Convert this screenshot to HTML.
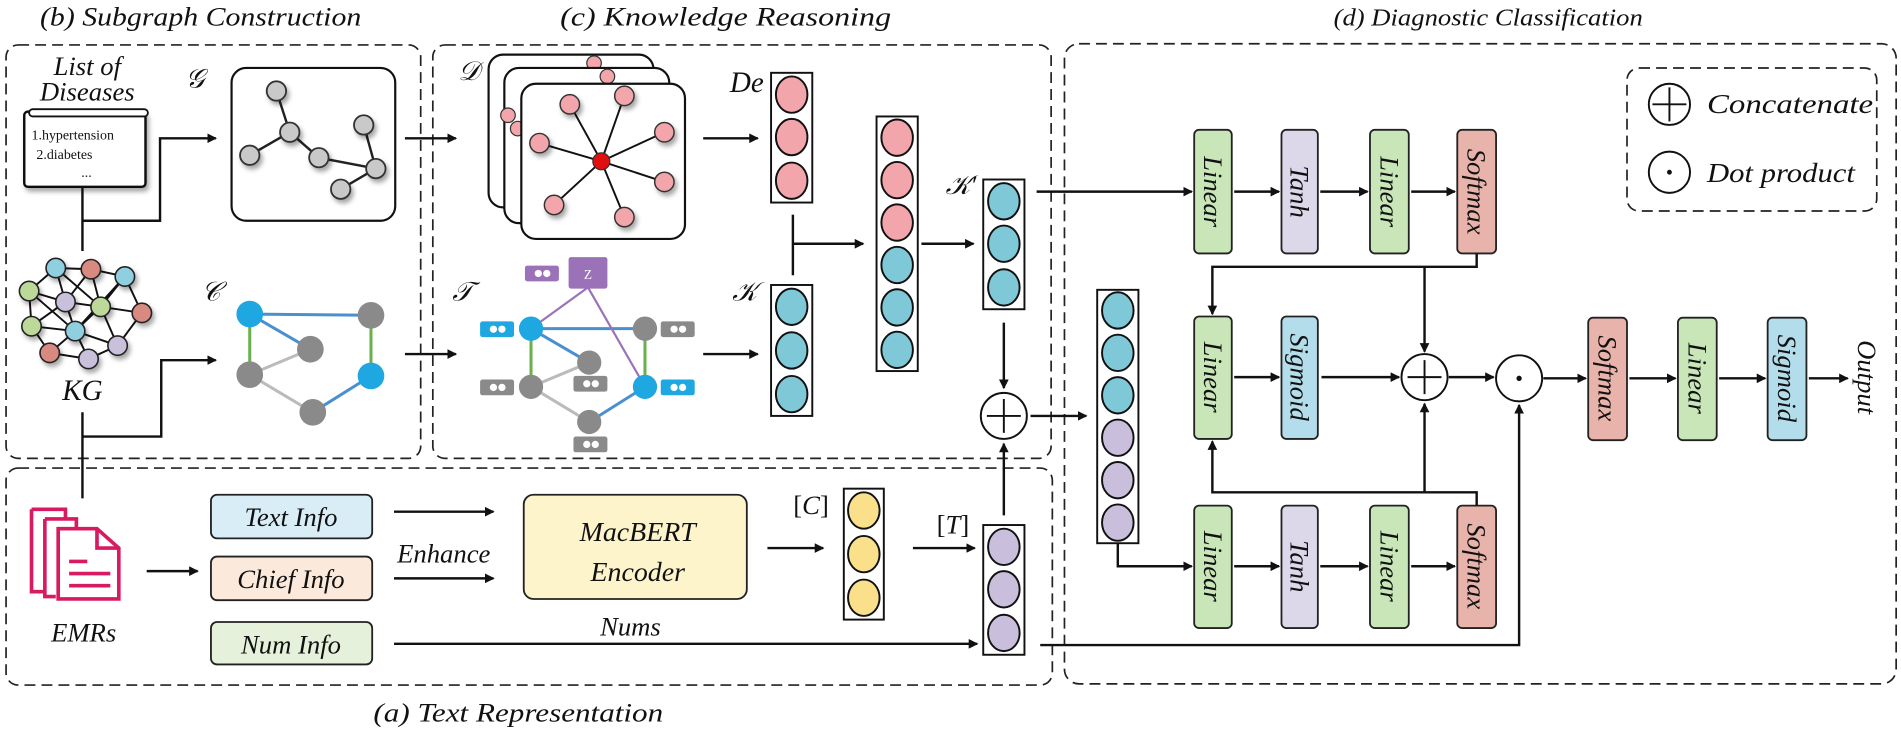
<!DOCTYPE html>
<html><head><meta charset="utf-8"><style>
html,body{margin:0;padding:0;background:#fff;}
svg{display:block;}
text{font-family:"Liberation Serif",serif;font-style:italic;fill:#111;}
</style></head><body>
<svg width="1901" height="730" viewBox="0 0 1568 602" xmlns="http://www.w3.org/2000/svg">
<defs>
<marker id="a" markerWidth="8" markerHeight="8" refX="7" refY="4" orient="auto" markerUnits="userSpaceOnUse"><path d="M0,0 L8,4 L0,8 z" fill="#111"/></marker>
<filter id="sh" x="-50%" y="-50%" width="200%" height="200%"><feDropShadow dx="2" dy="3" stdDeviation="2" flood-color="#000" flood-opacity="0.35"/></filter>
</defs>

<!-- titles -->
<text x="33" y="21" font-size="22" textLength="265" lengthAdjust="spacingAndGlyphs">(b) Subgraph Construction</text>
<text x="462" y="21" font-size="22" textLength="273" lengthAdjust="spacingAndGlyphs">(c) Knowledge Reasoning</text>
<text x="1100" y="21" font-size="20" textLength="255" lengthAdjust="spacingAndGlyphs">(d) Diagnostic Classification</text>
<text x="308" y="595" font-size="22" textLength="239" lengthAdjust="spacingAndGlyphs">(a) Text  Representation</text>

<!-- dashed boxes -->
<g fill="none" stroke="#222" stroke-width="1.4" stroke-dasharray="9,5">
<rect x="5" y="37" width="342" height="341" rx="10"/>
<rect x="357" y="37" width="510" height="341" rx="10"/>
<rect x="5" y="386" width="863" height="179" rx="10"/>
<rect x="878" y="36" width="686" height="528" rx="12"/>
<rect x="1342" y="56" width="206" height="118" rx="10"/>
</g>

<!-- legend -->
<g stroke="#111" stroke-width="1.6" fill="#fff">
<circle cx="1377" cy="86" r="17"/><circle cx="1377" cy="142" r="17"/>
</g>
<path d="M1377,72 V100 M1363,86 H1391" stroke="#111" stroke-width="1.6" fill="none"/>
<circle cx="1377" cy="142" r="2" fill="#111"/>
<text x="1408" y="93" font-size="23" textLength="137" lengthAdjust="spacingAndGlyphs">Concatenate</text>
<text x="1408" y="150" font-size="23" textLength="122" lengthAdjust="spacingAndGlyphs">Dot product</text>

<!-- (b) list of diseases -->
<text x="72" y="62" font-size="22" text-anchor="middle">List of</text>
<text x="72" y="83" font-size="22" text-anchor="middle">Diseases</text>
<g filter="url(#sh)">
<rect x="20" y="92" width="100" height="62" rx="3" fill="#fff" stroke="#111" stroke-width="2"/>
</g>
<rect x="24" y="90" width="98" height="6" rx="3" fill="#fff" stroke="#111" stroke-width="1.5"/>
<text x="26" y="115" font-size="11.5" style="font-style:normal">1.hypertension</text>
<text x="30" y="131" font-size="11.5" style="font-style:normal">2.diabetes</text>
<text x="67" y="146" font-size="11.5" style="font-style:normal">...</text>
<text x="153" y="72" font-size="22">𝒢</text>

<!-- connectors b -->
<g fill="none" stroke="#111" stroke-width="2">
<path d="M68,154 V207"/>
<path d="M68,182 H132 V114 H178" marker-end="url(#a)"/>
<path d="M68,340 V411"/>
<path d="M68,360 H133 V297 H178" marker-end="url(#a)"/>
<path d="M334,114 H376" marker-end="url(#a)"/>
<path d="M334,292 H376" marker-end="url(#a)"/>
</g>

<!-- G box -->
<rect x="191" y="56" width="135" height="126" rx="12" fill="#fff" stroke="#111" stroke-width="1.8"/>
<g stroke="#222" stroke-width="2" fill="none"><path d="M228,75 L239,109 L206,128 M239,109 L263,130 L310,139 L300,103 M310,139 L281,156"/></g>
<g fill="#c9c9c9" stroke="#333" stroke-width="1.5" filter="url(#sh)">
<circle cx="228" cy="75" r="8"/><circle cx="239" cy="109" r="8"/><circle cx="206" cy="128" r="8"/><circle cx="263" cy="130" r="8"/><circle cx="300" cy="103" r="8"/><circle cx="310" cy="139" r="8"/><circle cx="281" cy="156" r="8"/>
</g>

<!-- KG -->
<g stroke="#111" stroke-width="1.6" fill="none">
<path d="M46,221 L75,222 L103,228 L117,258 L97,285 L73,296 L41,291 L26,269 L24,240 L46,221 M46,221 L54,249 L62,273 L73,296 M75,222 L83,253 L117,258 M103,228 L83,253 L62,273 L41,291 M24,240 L54,249 L83,253 L97,285 M26,269 L54,249 M75,222 L54,249 M62,273 L97,285 M24,240 L62,273 M103,228 L62,273 M46,221 L83,253 M26,269 L62,273"/>
</g>
<g stroke="#222" stroke-width="1.3" filter="url(#sh)">
<circle cx="46" cy="221" r="8" fill="#8fcfe0"/><circle cx="75" cy="222" r="8" fill="#d98a80"/><circle cx="103" cy="228" r="8" fill="#8fcfe0"/>
<circle cx="24" cy="240" r="8" fill="#bcd99a"/><circle cx="54" cy="249" r="8" fill="#c9c0dc"/><circle cx="83" cy="253" r="8" fill="#bcd99a"/>
<circle cx="117" cy="258" r="8" fill="#d98a80"/><circle cx="26" cy="269" r="8" fill="#bcd99a"/><circle cx="62" cy="273" r="8" fill="#8fcfe0"/>
<circle cx="97" cy="285" r="8" fill="#c9c0dc"/><circle cx="41" cy="291" r="8" fill="#d98a80"/><circle cx="73" cy="296" r="8" fill="#c9c0dc"/>
</g>
<text x="68" y="330" font-size="24" text-anchor="middle">KG</text>

<!-- C graph -->
<text x="166" y="248" font-size="22">𝒞</text>
<g stroke-width="2.5" fill="none">
<path d="M206,259 L306,260 M206,259 L256,288 M258,340 L306,310" stroke="#4a90d0"/>
<path d="M206,259 L206,309 M306,260 L306,310" stroke="#6ab04c"/>
<path d="M206,309 L256,288 M206,309 L258,340" stroke="#bbb"/>
</g>
<g>
<circle cx="206" cy="259" r="11" fill="#1ea7e1"/><circle cx="306" cy="310" r="11" fill="#1ea7e1"/>
<circle cx="306" cy="260" r="11" fill="#8a8a8a"/><circle cx="256" cy="288" r="11" fill="#8a8a8a"/><circle cx="206" cy="309" r="11" fill="#8a8a8a"/><circle cx="258" cy="340" r="11" fill="#8a8a8a"/>
</g>

<!-- (c) D stack -->
<text x="378" y="66" font-size="22">𝒟</text>
<rect x="403" y="45" width="136" height="126" rx="12" fill="#fff" stroke="#111" stroke-width="1.8"/>
<circle cx="490" cy="52" r="6" fill="#f2a5ab" stroke="#333" stroke-width="1"/>
<rect x="416" y="56" width="136" height="128" rx="12" fill="#fff" stroke="#111" stroke-width="1.8"/>
<circle cx="419" cy="95" r="6" fill="#f2a5ab" stroke="#333" stroke-width="1"/><circle cx="501" cy="63" r="6" fill="#f2a5ab" stroke="#333" stroke-width="1"/><circle cx="427" cy="106" r="6" fill="#f2a5ab" stroke="#333" stroke-width="1"/>
<rect x="430" y="69" width="135" height="128" rx="12" fill="#fff" stroke="#111" stroke-width="1.8"/>
<g stroke="#111" stroke-width="1.6" fill="none"><path d="M496,133 L470,86 M496,133 L515,79 M496,133 L548,109 M496,133 L445,118 M496,133 L548,150 M496,133 L457,169 M496,133 L515,179"/></g>
<g fill="#f2a5ab" stroke="#333" stroke-width="1.2" filter="url(#sh)">
<circle cx="470" cy="86" r="8"/><circle cx="515" cy="79" r="8"/><circle cx="548" cy="109" r="8"/><circle cx="445" cy="118" r="8"/><circle cx="548" cy="150" r="8"/><circle cx="457" cy="169" r="8"/><circle cx="515" cy="179" r="8"/>
</g>
<circle cx="496" cy="133" r="7" fill="#e01010" stroke="#333" stroke-width="1"/>

<!-- T graph -->
<text x="373" y="248" font-size="22">𝒯</text>
<g stroke-width="2.5" fill="none">
<path d="M438,271 L532,271 M438,271 L486,299 M486,348 L532,319" stroke="#4a90d0"/>
<path d="M438,271 L438,319 M532,271 L532,319" stroke="#6ab04c"/>
<path d="M438,319 L486,299 M438,319 L486,348" stroke="#bbb"/>
<path d="M485,237 L438,271 M485,237 L532,319" stroke="#9b72b8" stroke-width="1.8"/>
</g>
<circle cx="438" cy="271" r="10" fill="#1ea7e1"/><circle cx="532" cy="319" r="10" fill="#1ea7e1"/>
<circle cx="532" cy="271" r="10" fill="#8a8a8a"/><circle cx="486" cy="299" r="10" fill="#8a8a8a"/><circle cx="438" cy="319" r="10" fill="#8a8a8a"/><circle cx="486" cy="348" r="10" fill="#8a8a8a"/>
<rect x="469" y="212" width="32" height="26" rx="2" fill="#9b72b8"/>
<text x="485" y="230" font-size="11" text-anchor="middle" style="fill:#fff;font-style:normal">Z</text>
<g>
<rect x="433" y="219" width="28" height="13" rx="2" fill="#9b72b8"/>
<rect x="396" y="265" width="28" height="13" rx="2" fill="#1ea7e1"/>
<rect x="545" y="265" width="28" height="13" rx="2" fill="#8a8a8a"/>
<rect x="396" y="313" width="28" height="13" rx="2" fill="#8a8a8a"/>
<rect x="473" y="310" width="28" height="13" rx="2" fill="#8a8a8a"/>
<rect x="545" y="313" width="28" height="13" rx="2" fill="#1ea7e1"/>
<rect x="473" y="360" width="28" height="13" rx="2" fill="#8a8a8a"/>
</g>
<g fill="#fff">
<circle cx="444" cy="225.5" r="3"/><circle cx="451" cy="225.5" r="3"/>
<circle cx="407" cy="271.5" r="3"/><circle cx="414" cy="271.5" r="3"/>
<circle cx="556" cy="271.5" r="3"/><circle cx="563" cy="271.5" r="3"/>
<circle cx="407" cy="319.5" r="3"/><circle cx="414" cy="319.5" r="3"/>
<circle cx="484" cy="316.5" r="3"/><circle cx="491" cy="316.5" r="3"/>
<circle cx="556" cy="319.5" r="3"/><circle cx="563" cy="319.5" r="3"/>
<circle cx="484" cy="366.5" r="3"/><circle cx="491" cy="366.5" r="3"/>
</g>

<!-- c connectors -->
<g fill="none" stroke="#111" stroke-width="2">
<path d="M580,114 H625" marker-end="url(#a)"/>
<path d="M580,292 H625" marker-end="url(#a)"/>
<path d="M654,177 V227"/>
<path d="M654,201 H712" marker-end="url(#a)"/>
<path d="M760,201 H803" marker-end="url(#a)"/>
<path d="M828,266 V320" marker-end="url(#a)"/>
<path d="M828,425 V366" marker-end="url(#a)"/>
<path d="M850,343 H896" marker-end="url(#a)"/>
</g>
<text x="630" y="76" font-size="24" text-anchor="end">De</text>
<text x="604" y="248" font-size="22">𝒦</text>
<text x="780" y="160" font-size="22">𝒦′</text>

<!-- vectors -->
<g stroke="#111" stroke-width="1.6">
<rect x="636" y="60" width="34" height="107" fill="#fff"/>
<rect x="636" y="235" width="34" height="108" fill="#fff"/>
<rect x="723" y="96" width="34" height="210" fill="#fff"/>
<rect x="811" y="148" width="34" height="107" fill="#fff"/>
<rect x="811" y="433" width="34" height="107" fill="#fff"/>
<rect x="696" y="403" width="33" height="108" fill="#fff"/>
<rect x="905" y="239" width="34" height="209" fill="#fff"/>
<g fill="#f2a5ab"><ellipse cx="653" cy="78" rx="13" ry="15"/><ellipse cx="653" cy="113" rx="13" ry="15"/><ellipse cx="653" cy="149" rx="13" ry="15"/>
<ellipse cx="740" cy="113.5" rx="13" ry="15"/><ellipse cx="740" cy="148.5" rx="13" ry="15"/><ellipse cx="740" cy="183.5" rx="13" ry="15"/></g>
<g fill="#7ec8d8"><ellipse cx="653" cy="253" rx="13" ry="15"/><ellipse cx="653" cy="289" rx="13" ry="15"/><ellipse cx="653" cy="325" rx="13" ry="15"/>
<ellipse cx="740" cy="218.5" rx="13" ry="15"/><ellipse cx="740" cy="253.5" rx="13" ry="15"/><ellipse cx="740" cy="288.5" rx="13" ry="15"/>
<ellipse cx="828" cy="166" rx="13" ry="15"/><ellipse cx="828" cy="201" rx="13" ry="15"/><ellipse cx="828" cy="237" rx="13" ry="15"/>
<ellipse cx="922" cy="256" rx="13" ry="15"/><ellipse cx="922" cy="291" rx="13" ry="15"/><ellipse cx="922" cy="326" rx="13" ry="15"/></g>
<g fill="#c9bfdc"><ellipse cx="922" cy="361" rx="13" ry="15"/><ellipse cx="922" cy="396" rx="13" ry="15"/><ellipse cx="922" cy="431" rx="13" ry="15"/>
<ellipse cx="828" cy="451" rx="13" ry="15"/><ellipse cx="828" cy="486" rx="13" ry="15"/><ellipse cx="828" cy="522" rx="13" ry="15"/></g>
<g fill="#fbe08c"><ellipse cx="712.5" cy="421" rx="13" ry="15"/><ellipse cx="712.5" cy="457" rx="13" ry="15"/><ellipse cx="712.5" cy="493" rx="13" ry="15"/></g>
</g>
<g stroke="#111" stroke-width="1.6" fill="#fff"><circle cx="828" cy="343" r="19"/></g>
<path d="M828,329 V357 M814,343 H842" stroke="#111" stroke-width="1.6" fill="none"/>

<!-- (a) text representation -->
<g fill="#fff" stroke="#d81b60" stroke-width="3">
<path d="M26,420 H54 V476 M26,420 V488 H38"/>
<path d="M37,428 H63 V484 M37,428 V492 H46"/>
<path d="M48,436 H80 L98,452 V494 H48 Z"/>
<path d="M80,436 V452 H98" fill="none"/>
</g>
<path d="M57,463 H72 M57,473 H91 M57,483 H91" stroke="#d81b60" stroke-width="3" fill="none"/>
<text x="69" y="529" font-size="22" text-anchor="middle">EMRs</text>

<rect x="174" y="408" width="133" height="36" rx="5" fill="#d8edf5" stroke="#222" stroke-width="1.5"/>
<rect x="174" y="459" width="133" height="36" rx="5" fill="#fbe9dc" stroke="#222" stroke-width="1.5"/>
<rect x="174" y="513" width="133" height="35" rx="5" fill="#e6f1dc" stroke="#222" stroke-width="1.5"/>
<text x="240" y="434" font-size="22" text-anchor="middle">Text Info</text>
<text x="240" y="485" font-size="22" text-anchor="middle">Chief Info</text>
<text x="240" y="539" font-size="22" text-anchor="middle">Num Info</text>
<rect x="432" y="408" width="184" height="86" rx="8" fill="#fdf4cc" stroke="#222" stroke-width="1.5"/>
<text x="526" y="446" font-size="23" text-anchor="middle">MacBERT</text>
<text x="526" y="479" font-size="23" text-anchor="middle">Encoder</text>
<text x="366" y="464" font-size="22" text-anchor="middle">Enhance</text>
<text x="520" y="524" font-size="22" text-anchor="middle">Nums</text>
<text x="669" y="424" font-size="22" text-anchor="middle" style="font-style:normal">[<tspan style="font-style:italic">C</tspan>]</text>
<text x="786" y="440" font-size="22" text-anchor="middle" style="font-style:normal">[<tspan style="font-style:italic">T</tspan>]</text>

<g fill="none" stroke="#111" stroke-width="2">
<path d="M121,471 H163" marker-end="url(#a)"/>
<path d="M325,422 H407" marker-end="url(#a)"/>
<path d="M325,477 H407" marker-end="url(#a)"/>
<path d="M633,452 H679" marker-end="url(#a)"/>
<path d="M753,452 H804" marker-end="url(#a)"/>
<path d="M325,531 H806" marker-end="url(#a)"/>
<path d="M858,532 H1253 V334" marker-end="url(#a)"/>
</g>

<!-- (d) blocks -->
<g stroke="#222" stroke-width="1.5">
<rect x="985" y="107" width="31" height="102" rx="4" fill="#c8e6b8"/>
<rect x="1057" y="107" width="30" height="102" rx="4" fill="#dcd8ea"/>
<rect x="1130" y="107" width="32" height="102" rx="4" fill="#c8e6b8"/>
<rect x="1202" y="107" width="32" height="102" rx="4" fill="#e8b3aa"/>
<rect x="985" y="261" width="31" height="101" rx="4" fill="#c8e6b8"/>
<rect x="1057" y="261" width="30" height="101" rx="4" fill="#b4ddeb"/>
<rect x="1310" y="262" width="32" height="101" rx="4" fill="#e8b3aa"/>
<rect x="1384" y="262" width="32" height="101" rx="4" fill="#c8e6b8"/>
<rect x="1458" y="262" width="32" height="101" rx="4" fill="#b4ddeb"/>
<rect x="985" y="417" width="31" height="101" rx="4" fill="#c8e6b8"/>
<rect x="1057" y="417" width="30" height="101" rx="4" fill="#dcd8ea"/>
<rect x="1130" y="417" width="32" height="101" rx="4" fill="#c8e6b8"/>
<rect x="1202" y="417" width="32" height="101" rx="4" fill="#e8b3aa"/>
</g>
<g font-size="22" text-anchor="middle" dominant-baseline="central">
<text transform="translate(1000.5,158) rotate(90)">Linear</text>
<text transform="translate(1072,158) rotate(90)">Tanh</text>
<text transform="translate(1146,158) rotate(90)">Linear</text>
<text transform="translate(1218,158) rotate(90)">Softmax</text>
<text transform="translate(1000.5,311) rotate(90)">Linear</text>
<text transform="translate(1072,311) rotate(90)">Sigmoid</text>
<text transform="translate(1326,312) rotate(90)">Softmax</text>
<text transform="translate(1400,312) rotate(90)">Linear</text>
<text transform="translate(1474,312) rotate(90)">Sigmoid</text>
<text transform="translate(1000.5,467) rotate(90)">Linear</text>
<text transform="translate(1072,467) rotate(90)">Tanh</text>
<text transform="translate(1146,467) rotate(90)">Linear</text>
<text transform="translate(1218,467) rotate(90)">Softmax</text>
<text transform="translate(1540,311) rotate(90)">Output</text>
</g>

<g stroke="#111" stroke-width="1.6" fill="#fff"><circle cx="1175" cy="311" r="19"/><circle cx="1253" cy="312" r="19"/></g>
<path d="M1175,297 V325 M1161,311 H1189" stroke="#111" stroke-width="1.6" fill="none"/>
<circle cx="1253" cy="312" r="2.2" fill="#111"/>

<g fill="none" stroke="#111" stroke-width="2">
<path d="M855,158 H983" marker-end="url(#a)"/>
<path d="M1018,158 H1055" marker-end="url(#a)"/>
<path d="M1089,158 H1128" marker-end="url(#a)"/>
<path d="M1164,158 H1200" marker-end="url(#a)"/>
<path d="M1218,209 V220 H1000 V259" marker-end="url(#a)"/>
<path d="M1175,220 V290" marker-end="url(#a)"/>
<path d="M1018,311 H1055" marker-end="url(#a)"/>
<path d="M1090,311 H1154" marker-end="url(#a)"/>
<path d="M1195,311 H1232" marker-end="url(#a)"/>
<path d="M1273,312 H1308" marker-end="url(#a)"/>
<path d="M1344,312 H1382" marker-end="url(#a)"/>
<path d="M1418,312 H1456" marker-end="url(#a)"/>
<path d="M1492,312 H1524" marker-end="url(#a)"/>
<path d="M1218,417 V406 H1000 V364" marker-end="url(#a)"/>
<path d="M1175,406 V333" marker-end="url(#a)"/>
<path d="M922,448 V467 H983" marker-end="url(#a)"/>
<path d="M1018,467 H1055" marker-end="url(#a)"/>
<path d="M1089,467 H1128" marker-end="url(#a)"/>
<path d="M1164,467 H1200" marker-end="url(#a)"/>
</g>
</svg>
</body></html>
